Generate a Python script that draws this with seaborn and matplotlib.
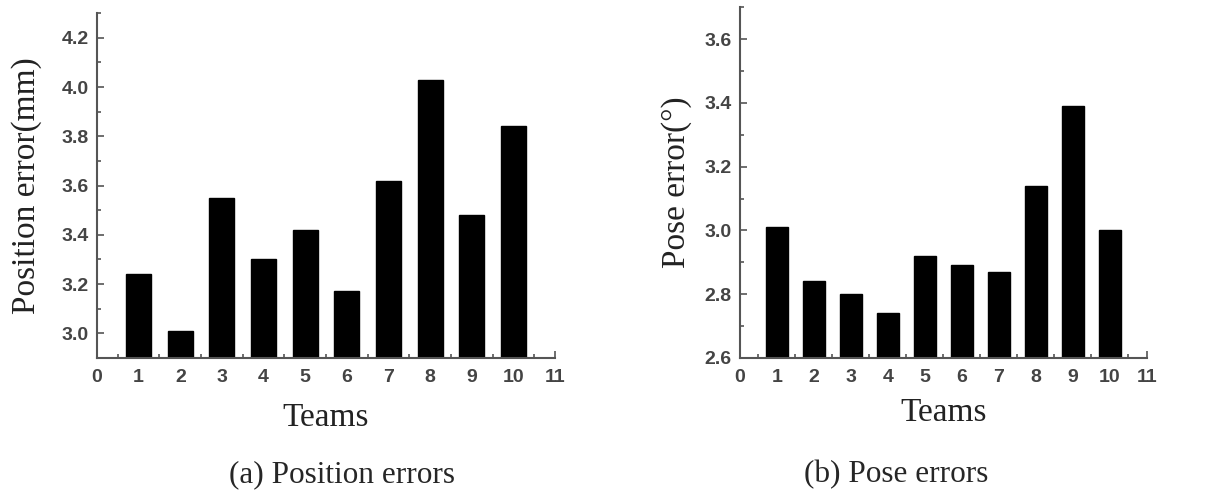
import numpy as np
import pandas as pd
import matplotlib
matplotlib.use("Agg")
import matplotlib.pyplot as plt
from matplotlib.ticker import MultipleLocator
import seaborn as sns

sns.set_style("ticks")

### data
teams = [1, 2, 3, 4, 5, 6, 7, 8, 9, 10]
position_error = [3.24, 3.01, 3.55, 3.30, 3.42, 3.17, 3.62, 4.03, 3.48, 3.84]
pose_error = [3.01, 2.84, 2.80, 2.74, 2.92, 2.89, 2.87, 3.14, 3.39, 3.00]

serif = "Liberation Serif"
sans = "Liberation Sans"
tick_col = "#444444"
spine_col = "#555555"

fig = plt.figure(figsize=(12.28, 4.99), dpi=100)
ax1 = fig.add_axes([0.079, 0.2826, 0.373, 0.691])
ax2 = fig.add_axes([0.6026, 0.2826, 0.3314, 0.703])


def style_axis(ax, ylim, ymajor, ylabel, ylab_x, xlab_y):
    ax.set_xlim(0, 11)
    ax.set_ylim(*ylim)
    ax.xaxis.set_minor_locator(MultipleLocator(0.5))
    ax.yaxis.set_major_locator(MultipleLocator(ymajor))
    ax.yaxis.set_minor_locator(MultipleLocator(ymajor / 2))
    ax.set_xticks(range(0, 12))
    ax.set_xticklabels([str(i) for i in range(0, 12)])
    ax.tick_params(which="both", direction="in", color=spine_col, width=1.2,
                   labelcolor=tick_col, labelsize=14)
    ax.tick_params(which="major", length=5)
    ax.tick_params(which="minor", length=3)
    ax.tick_params(axis="x", which="major", pad=8)
    ax.tick_params(axis="y", which="major", pad=6)
    for lab in ax.get_xticklabels() + ax.get_yticklabels():
        lab.set_fontfamily(sans)
        lab.set_fontweight("bold")
    for s in ["top", "right"]:
        ax.spines[s].set_visible(False)
    for s in ["left", "bottom"]:
        ax.spines[s].set_color(spine_col)
        ax.spines[s].set_linewidth(1.5)
    ax.set_xlabel("Teams", fontsize=24, family=serif, color="#222222")
    ax.set_ylabel(ylabel, fontsize=24, family=serif, color="#222222")
    ax.yaxis.set_label_coords(ylab_x, 0.5)
    ax.xaxis.set_label_coords(0.5, xlab_y)


sns.barplot(x=teams, y=position_error, native_scale=True, width=0.6,
            color="black", saturation=1, edgecolor="black", ax=ax1)
style_axis(ax1, (2.9, 4.3), 0.2, "Position error(mm)", -0.12, -0.128)

sns.barplot(x=teams, y=pose_error, native_scale=True, width=0.6,
            color="black", saturation=1, edgecolor="black", ax=ax2)
style_axis(ax2, (2.6, 3.7), 0.2, "Pose error(\u00b0)", -0.118, -0.114)

fig.text(342 / 1228, 1 - 475 / 499, "(a) Position errors", ha="center",
         va="center", fontsize=22.5, family=serif)
fig.text(896 / 1228, 1 - 475 / 499, "(b) Pose errors", ha="center",
         va="center", fontsize=22.5, family=serif)

fig.savefig("out.png", dpi=100, facecolor="white")
